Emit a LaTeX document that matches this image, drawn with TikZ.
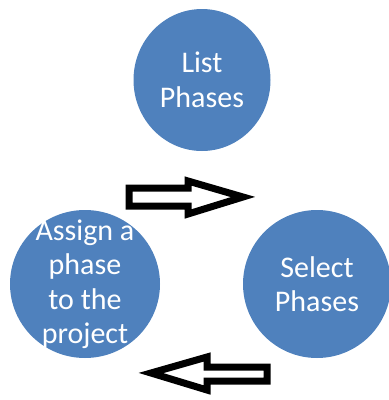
\documentclass[tikz,border=0pt]{standalone}
\usepackage{fontspec}
\setmainfont{Carlito}
\usetikzlibrary{shapes.geometric}
\tikzset{>=latex}
\definecolor{phaseblue}{HTML}{4F81BD}
\tikzset{
  phase/.style={ellipse, fill=phaseblue, text=white, align=center, inner sep=-40pt,
    font=\fontsize{30}{34.5}\selectfont},
  blockarrow/.style={draw=black, line width=7pt, fill=white, line join=miter}
}

\begin{document}
\begin{tikzpicture}[x=1pt,y=-1pt]
    % Fix the page size
    \useasboundingbox (0,0) rectangle (389,400);
    \clip (0,0) rectangle (389,400);

    % Draw the three phase circles
    \node[phase, minimum width=137pt, minimum height=142pt] (list) at (202,80) {List\\Phases};
    \node[phase, minimum width=150pt, minimum height=148pt] (assign) at (85,284) {Assign a\\phase\\to the\\project};
    \node[phase, minimum size=148pt] (select) at (317,284) {Select\\Phases};

    % Draw the block arrows between them
    \draw[blockarrow] (129,188) -- (188,188) -- (188,181) -- (243,197) -- (188,214) -- (188,206) -- (129,206) -- cycle;
    \draw[blockarrow] (267,367) -- (207,367) -- (207,357) -- (151,373) -- (207,390) -- (207,381) -- (267,381) -- cycle;
\end{tikzpicture}
\end{document}
